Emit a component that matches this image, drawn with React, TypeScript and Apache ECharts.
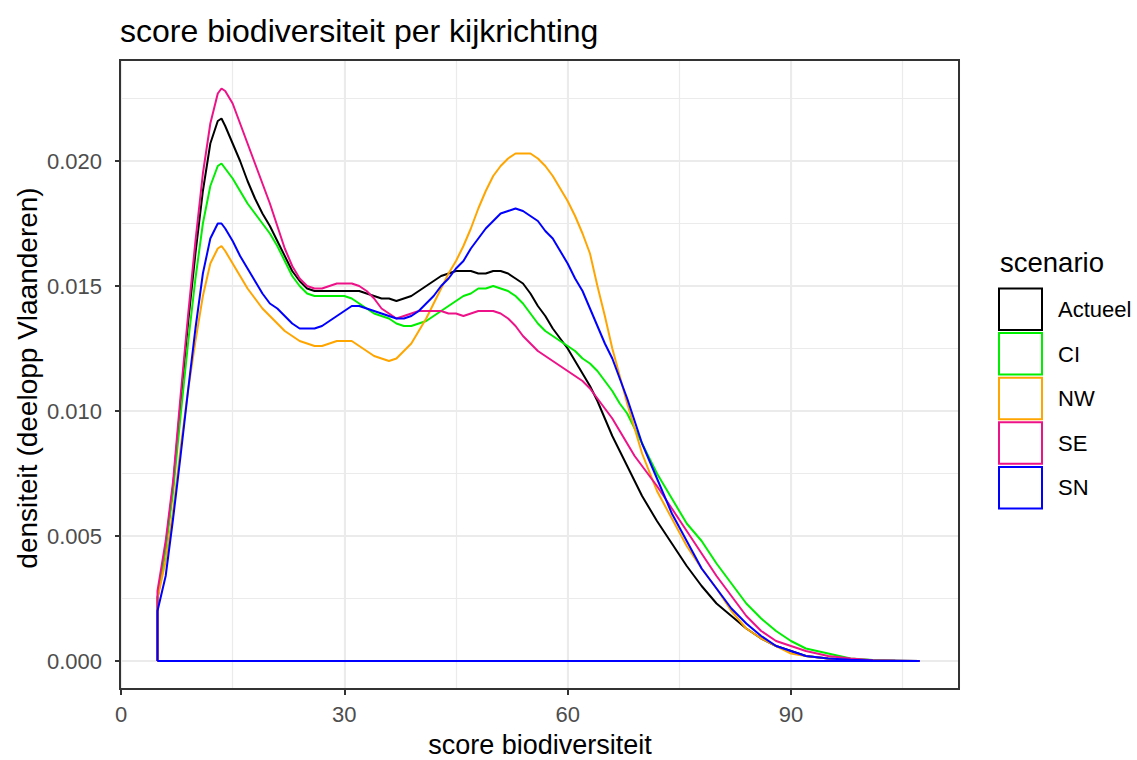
import React, { useEffect, useRef } from "react";
import * as echarts from "echarts";

// x positions (score biodiversiteit) at which the densities were read
const scoreX = [
  4.9, 6, 7, 8, 9, 10, 11, 12, 13, 13.5,
  14, 15, 16, 17, 18, 19, 20, 21, 22, 23,
  24, 25, 26, 27, 28, 29, 30, 31, 32, 33,
  34, 35, 36, 37, 38, 39, 40, 41, 42, 43,
  44, 45, 46, 47, 48, 49, 50, 51, 52, 53,
  54, 55, 56, 57, 58, 59, 60, 61, 62, 63,
  64, 65, 66, 67, 68, 69, 70, 72, 74, 76,
  78, 80, 82, 84, 86, 88, 90, 92, 95, 98,
  101, 104, 107.3,
];

const actueel = [
  0.0025, 0.0046, 0.007, 0.0103, 0.0135, 0.0163, 0.0188, 0.0207, 0.0216, 0.0217,
  0.0214, 0.0207, 0.02, 0.0192, 0.0185, 0.0179, 0.0174, 0.0168, 0.0162, 0.0156,
  0.0152, 0.0149, 0.0148, 0.0148, 0.0148, 0.0148, 0.0148, 0.0148, 0.0148, 0.0147,
  0.0146, 0.0145, 0.0145, 0.0144, 0.0145, 0.0146, 0.0148, 0.015, 0.0152, 0.0154,
  0.0155, 0.0156, 0.0156, 0.0156, 0.0155, 0.0155, 0.0156, 0.0156, 0.0155, 0.0153,
  0.0151, 0.0147, 0.0142, 0.0138, 0.0133, 0.0129, 0.0125, 0.012, 0.0115, 0.011,
  0.0104, 0.0097, 0.009, 0.0084, 0.0078, 0.0072, 0.0066, 0.0056, 0.0047, 0.0038,
  0.003, 0.0023, 0.0018, 0.0013, 0.0009, 0.0006, 0.0004, 0.0002, 0.0001, 0.00004,
  0.00002, 0.00001, 0,
];

const ci = [
  0.0025, 0.0045, 0.0068, 0.0098, 0.0127, 0.0153, 0.0175, 0.019, 0.0198, 0.0199,
  0.0197, 0.0193, 0.0188, 0.0183, 0.0179, 0.0175, 0.0171, 0.0166, 0.016, 0.0154,
  0.015, 0.0147, 0.0146, 0.0146, 0.0146, 0.0146, 0.0146, 0.0145, 0.0143, 0.0141,
  0.0139, 0.0138, 0.0137, 0.0135, 0.0134, 0.0134, 0.0135, 0.0136, 0.0138, 0.014,
  0.0142, 0.0144, 0.0146, 0.0147, 0.0149, 0.0149, 0.015, 0.0149, 0.0148, 0.0146,
  0.0143, 0.0139, 0.0135, 0.0132, 0.013, 0.0128, 0.0126, 0.0124, 0.0121, 0.0119,
  0.0116, 0.0112, 0.0108, 0.0103, 0.0099, 0.0093, 0.0087, 0.0075, 0.0065, 0.0055,
  0.0048, 0.0039, 0.0031, 0.0023, 0.0017, 0.0012, 0.0008, 0.0005, 0.0003, 0.0001,
  0.00004, 0.00001, 0,
];

const nw = [
  0.0025, 0.004, 0.006, 0.0085, 0.0108, 0.0128, 0.0146, 0.0159, 0.0165, 0.0166,
  0.0164, 0.0159, 0.0154, 0.0149, 0.0145, 0.0141, 0.0138, 0.0135, 0.0132, 0.013,
  0.0128, 0.0127, 0.0126, 0.0126, 0.0127, 0.0128, 0.0128, 0.0128, 0.0126, 0.0124,
  0.0122, 0.0121, 0.012, 0.0121, 0.0124, 0.0127, 0.0132, 0.0137, 0.0143, 0.0149,
  0.0155, 0.016, 0.0166, 0.0173, 0.0181, 0.0188, 0.0194, 0.0198, 0.0201, 0.0203,
  0.0203, 0.0203, 0.0201, 0.0198, 0.0194, 0.0189, 0.0184, 0.0178, 0.0171, 0.0163,
  0.015, 0.0138, 0.0125, 0.0114, 0.0103, 0.0093, 0.0083, 0.0068, 0.0057, 0.0046,
  0.0037, 0.0029, 0.002, 0.0013, 0.0009, 0.0006, 0.0003, 0.0002, 0.0001, 0.00004,
  0.00002, 0.00001, 0,
];

const se = [
  0.0028, 0.0048, 0.0072, 0.0106, 0.0138, 0.0168, 0.0195, 0.0215, 0.0227, 0.0229,
  0.0228, 0.0223, 0.0215, 0.0207, 0.0199, 0.0191, 0.0183, 0.0174, 0.0165, 0.0158,
  0.0153, 0.015, 0.0149, 0.0149, 0.015, 0.0151, 0.0151, 0.0151, 0.015, 0.0148,
  0.0145, 0.0141, 0.0139, 0.0137, 0.0138, 0.0139, 0.014, 0.014, 0.014, 0.014,
  0.0139, 0.0139, 0.0138, 0.0139, 0.014, 0.014, 0.014, 0.0139, 0.0137, 0.0134,
  0.013, 0.0127, 0.0124, 0.0122, 0.012, 0.0118, 0.0116, 0.0114, 0.0112, 0.0109,
  0.0105, 0.0101, 0.0097, 0.0092, 0.0087, 0.0082, 0.0078, 0.007, 0.0061, 0.0052,
  0.0043, 0.0034, 0.0026, 0.0018, 0.0012, 0.0008, 0.0006, 0.0004, 0.0002, 0.0001,
  0.00003, 0.00001, 0,
];

const sn = [
  0.002, 0.0034, 0.0057, 0.0082, 0.0108, 0.0133, 0.0155, 0.0169, 0.0175, 0.0175,
  0.0173, 0.0168, 0.0162, 0.0157, 0.0152, 0.0147, 0.0143, 0.0141, 0.0138, 0.0135,
  0.0133, 0.0133, 0.0133, 0.0134, 0.0136, 0.0138, 0.014, 0.0142, 0.0142, 0.0141,
  0.014, 0.0139, 0.0138, 0.0137, 0.0137, 0.0138, 0.014, 0.0143, 0.0146, 0.015,
  0.0153, 0.0157, 0.016, 0.0165, 0.0169, 0.0173, 0.0176, 0.0179, 0.018, 0.0181,
  0.018, 0.0178, 0.0176, 0.0172, 0.0169, 0.0164, 0.0159, 0.0153, 0.0148, 0.0141,
  0.0134, 0.0127, 0.0121, 0.0113, 0.0105, 0.0096, 0.0087, 0.0073, 0.0059, 0.0048,
  0.0037, 0.0029, 0.0021, 0.0015, 0.001, 0.0006, 0.0004, 0.0002, 0.0001, 0.00005,
  0.00002, 0.00001, 0,
];

const scenarios = ["Actueel", "CI", "NW", "SE", "SN"];
const scenarioColors = ["#000000", "#00EE00", "#FFA500", "#EE1289", "#0000FF"];
const xTicks = [0, 30, 60, 90];
const yTicks = [0, 0.005, 0.01, 0.015, 0.02];

const FONT = "'Liberation Sans', Arial, sans-serif";
const GRID_COLOR = "#EBEBEB";

export default function App() {
  const ref = useRef<HTMLDivElement>(null);

  useEffect(() => {
    if (!ref.current) return;
    const chart = echarts.init(ref.current, null, { renderer: "svg" });
    const allValues = [actueel, ci, nw, se, sn];

    const series = scenarios.map((name, k) => {
      const vals = allValues[k];
      const pts: number[][] = [[scoreX[0], 0]];
      scoreX.forEach((x, i) => pts.push([x, vals[i]]));
      pts.push([scoreX[scoreX.length - 1], 0]);
      pts.push([scoreX[0], 0]);
      return {
        name,
        type: "line",
        xAxisIndex: 0,
        yAxisIndex: 0,
        data: pts,
        showSymbol: false,
        symbol: "none",
        smooth: false,
        lineStyle: { color: scenarioColors[k], width: 2 },
        itemStyle: { color: scenarioColors[k] },
        z: 2 + k,
      };
    });

    const legendGraphics: any[] = [
      {
        type: "text",
        x: 1000,
        y: 262,
        style: {
          text: "scenario",
          fill: "#000",
          fontSize: 27.5,
          fontFamily: FONT,
          align: "left",
          verticalAlign: "middle",
        },
        z: 100,
      },
    ];
    scenarios.forEach((name, i) => {
      const top = 288.5 + i * 44.6;
      legendGraphics.push({
        type: "rect",
        shape: { x: 999, y: top, width: 43, height: 41.5 },
        style: { fill: "#ffffff", stroke: scenarioColors[i], lineWidth: 2 },
        z: 100,
      });
      legendGraphics.push({
        type: "text",
        x: 1058,
        y: top + 21,
        style: {
          text: name,
          fill: "#000",
          fontSize: 22,
          fontFamily: FONT,
          align: "left",
          verticalAlign: "middle",
        },
        z: 100,
      });
    });

    chart.setOption({
      animation: false,
      backgroundColor: "#ffffff",
      grid: [
        // data grid: y = 0 at its bottom edge
        { left: 121, top: 60, right: 177.8, bottom: 99, containLabel: false },
        // full panel grid: x ticks, labels and vertical grid lines
        { left: 121, top: 60, right: 177.8, bottom: 71, containLabel: false },
      ],
      xAxis: [
        {
          type: "value",
          gridIndex: 0,
          min: 0,
          max: 112.6,
          interval: 15,
          show: false,
        },
        {
          // major ticks, labels and major vertical grid lines
          type: "value",
          gridIndex: 1,
          position: "bottom",
          min: 0,
          max: 112.6,
          interval: 15,
          axisLine: { show: false },
          axisTick: {
            show: true,
            customValues: xTicks,
            length: 6,
            lineStyle: { color: "#333333", width: 2 },
          },
          axisLabel: {
            customValues: xTicks,
            margin: 14,
            color: "#4D4D4D",
            fontSize: 22,
            fontFamily: FONT,
            formatter: (v: number) => String(v),
          },
          splitLine: {
            show: true,
            lineStyle: { color: GRID_COLOR, width: 2 },
          },
          z: 1,
        },
        {
          // minor vertical grid lines every 15
          type: "value",
          gridIndex: 1,
          position: "top",
          min: 0,
          max: 112.6,
          interval: 15,
          axisLine: { show: false },
          axisTick: { show: false },
          axisLabel: { show: false },
          splitLine: {
            show: true,
            lineStyle: { color: GRID_COLOR, width: 1.2 },
          },
          z: 0,
        },
      ],
      yAxis: [
        {
          type: "value",
          gridIndex: 0,
          position: "left",
          min: 0,
          max: 0.02404,
          interval: 0.0025,
          offset: 1,
          axisLine: { show: false },
          axisTick: {
            show: true,
            customValues: yTicks,
            length: 6,
            lineStyle: { color: "#333333", width: 2 },
          },
          axisLabel: {
            customValues: yTicks,
            margin: 18,
            color: "#4D4D4D",
            fontSize: 22,
            fontFamily: FONT,
            formatter: (v: number) => v.toFixed(3),
          },
          splitLine: {
            show: true,
            lineStyle: { color: GRID_COLOR, width: 2 },
          },
          z: 1,
        },
        {
          type: "value",
          gridIndex: 1,
          min: 0,
          max: 1,
          show: false,
        },
        {
          // minor horizontal grid lines every 0.0025
          type: "value",
          gridIndex: 0,
          position: "right",
          min: 0,
          max: 0.02404,
          interval: 0.0025,
          axisLine: { show: false },
          axisTick: { show: false },
          axisLabel: { show: false },
          splitLine: {
            show: true,
            lineStyle: { color: GRID_COLOR, width: 1.2 },
          },
          z: 0,
        },
      ],
      series,
      graphic: [
        {
          type: "rect",
          shape: { x: 120, y: 60, width: 839, height: 629 },
          style: { fill: "none", stroke: "#333333", lineWidth: 2 },
          z: 100,
        },
        {
          type: "text",
          x: 120,
          y: 31,
          style: {
            text: "score biodiversiteit per kijkrichting",
            fill: "#000",
            fontSize: 32,
            fontFamily: FONT,
            align: "left",
            verticalAlign: "middle",
          },
          z: 100,
        },
        {
          type: "text",
          x: 540,
          y: 745,
          style: {
            text: "score biodiversiteit",
            fill: "#000",
            fontSize: 27,
            fontFamily: FONT,
            align: "center",
            verticalAlign: "middle",
          },
          z: 100,
        },
        {
          type: "text",
          x: 27,
          y: 378,
          rotation: Math.PI / 2,
          style: {
            text: "densiteit (deelopp Vlaanderen)",
            fill: "#000",
            fontSize: 28,
            fontFamily: FONT,
            align: "center",
            verticalAlign: "middle",
          },
          z: 100,
        },
        ...legendGraphics,
      ],
    });

    return () => {
      chart.dispose();
    };
  }, []);

  return (
    <div
      ref={ref}
      style={{ position: "absolute", left: 0, top: 0, width: 1137, height: 760 }}
    />
  );
}
